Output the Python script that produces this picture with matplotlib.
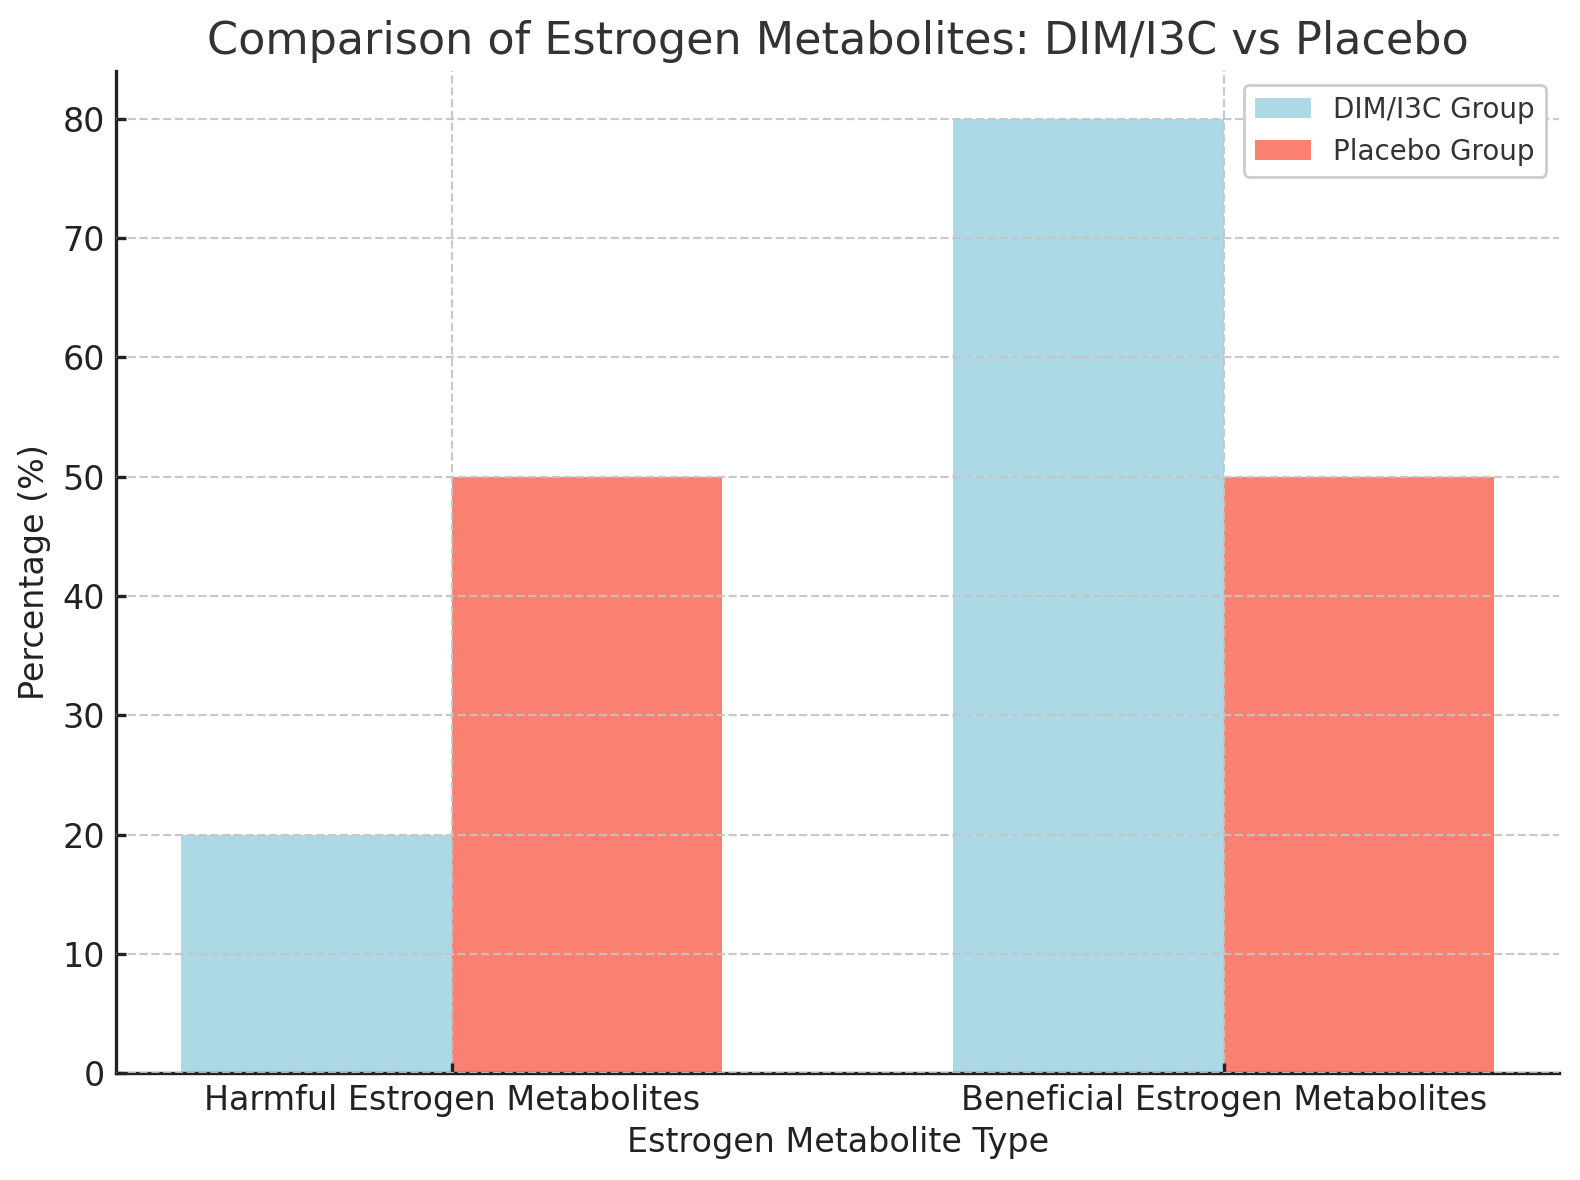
import numpy as np
import matplotlib
matplotlib.use("Agg")
import matplotlib.pyplot as plt

# Chart data
categories = ["Harmful Estrogen Metabolites", "Beneficial Estrogen Metabolites"]
dim_i3c_values = [20, 80]
placebo_values = [50, 50]
series_labels = ["DIM/I3C Group", "Placebo Group"]

plt.rcParams["font.family"] = "DejaVu Sans"

fig, ax = plt.subplots(figsize=(7.9, 5.9), dpi=200)
fig.subplots_adjust(left=0.0733, right=0.987, bottom=0.0905, top=0.940)

x = np.arange(len(categories))
width = 0.35

# Bars side by side, split at the category tick
ax.bar(x - width / 2, dim_i3c_values, width, color="lightblue", label=series_labels[0])
ax.bar(x + width / 2, placebo_values, width, color="salmon", label=series_labels[1])

ax.set_title("Comparison of Estrogen Metabolites: DIM/I3C vs Placebo",
             fontsize=16, color="#333333")
ax.set_xlabel("Estrogen Metabolite Type", fontsize=12, color="#222222", labelpad=3)
ax.set_ylabel("Percentage (%)", fontsize=12, color="#222222")
ax.set_xticks(x)
ax.set_xticklabels(categories)
ax.tick_params(axis="both", direction="in", length=3.5, width=1.2,
               labelsize=12, colors="#222222", pad=4)

# Grid on top of bars, as in the original
ax.grid(True, linestyle="--", color="#c4c4c4", linewidth=0.8, alpha=0.9)
ax.set_axisbelow(False)

for side in ["top", "right"]:
    ax.spines[side].set_visible(False)
for side in ["left", "bottom"]:
    ax.spines[side].set_linewidth(1.2)
    ax.spines[side].set_color("#222222")

leg = ax.legend(loc="upper right", fontsize=10, frameon=True, fancybox=True,
                edgecolor="#cccccc", framealpha=1.0)
for t in leg.get_texts():
    t.set_color("#333333")

fig.savefig("out.png", dpi=200)
